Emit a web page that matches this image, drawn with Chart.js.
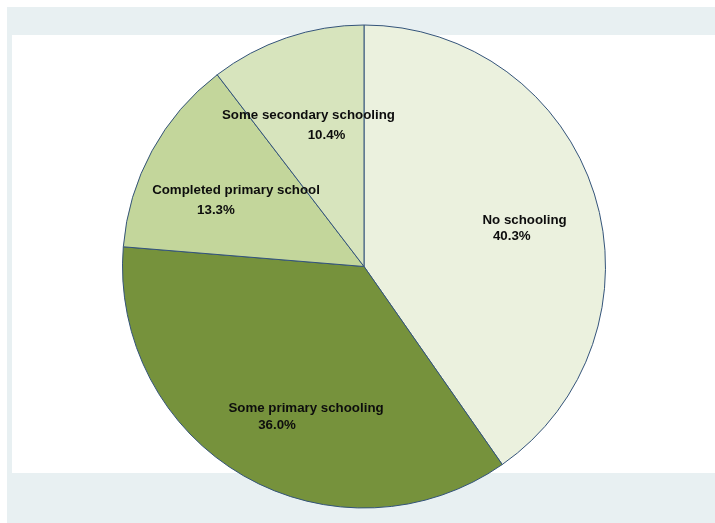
<!DOCTYPE html>
<html>
<head>
<meta charset="utf-8">
<script src="https://cdn.jsdelivr.net/npm/chart.js@4.4.1/dist/chart.umd.min.js"></script>
<style>
  html, body { margin: 0; padding: 0; background: #ffffff; }
  #wrap { width: 715px; height: 523px; position: relative; }
</style>
</head>
<body>
<div id="wrap"><canvas id="c" width="715" height="523"></canvas></div>
<script>
// Education level shares (percent), drawn clockwise from 12 o'clock
const categories = ['No schooling', 'Some primary schooling', 'Completed primary school', 'Some secondary schooling'];
const shares = [40.3, 36.0, 13.3, 10.4];
const sliceColors = ['#ebf1de', '#76923c', '#c3d69b', '#d7e4bd'];

// Label anchor points as fractions of the pie radius from its centre: [line1 x, line1 y, line2 x, line2 y]
const labelSpots = [
  [0.665, -0.193, 0.612, -0.126],
  [-0.240, 0.587, -0.360, 0.656],
  [-0.530, -0.314, -0.613, -0.231],
  [-0.230, -0.624, -0.155, -0.545]
];

const backdrop = {
  id: 'backdrop',
  beforeDraw(chart) {
    const ctx = chart.ctx;
    ctx.save();
    ctx.fillStyle = '#ffffff';
    ctx.fillRect(0, 0, chart.width, chart.height);
    ctx.fillStyle = '#e8f0f2';
    ctx.fillRect(7, 7, chart.width - 7, chart.height - 7);
    ctx.fillStyle = '#ffffff';
    ctx.fillRect(12, 35, chart.width - 12, 438);
    ctx.restore();
  }
};

const sliceLabels = {
  id: 'sliceLabels',
  afterDatasetsDraw(chart) {
    const ctx = chart.ctx;
    const arc = chart.getDatasetMeta(0).data[0];
    const cx = arc.x, cy = arc.y, r = arc.outerRadius;
    ctx.save();
    ctx.font = 'bold 13.3px "Liberation Sans", Arial, sans-serif';
    ctx.fillStyle = '#0d0d0d';
    ctx.textAlign = 'center';
    ctx.textBaseline = 'middle';
    categories.forEach((name, i) => {
      const s = labelSpots[i];
      ctx.fillText(name, cx + s[0] * r, cy + s[1] * r);
      ctx.fillText(shares[i].toFixed(1) + '%', cx + s[2] * r, cy + s[3] * r);
    });
    ctx.restore();
  }
};

new Chart(document.getElementById('c'), {
  type: 'pie',
  data: {
    labels: categories,
    datasets: [{
      data: shares,
      backgroundColor: sliceColors,
      borderColor: '#34547a',
      borderWidth: 1,
      hoverOffset: 0
    }]
  },
  options: {
    responsive: false,
    animation: false,
    radius: 241.5,
    layout: { padding: { left: 13, right: 0, top: 10, bottom: 0 } },
    plugins: {
      legend: { display: false },
      tooltip: { enabled: false }
    },
    events: []
  },
  plugins: [backdrop, sliceLabels]
});
</script>
</body>
</html>
